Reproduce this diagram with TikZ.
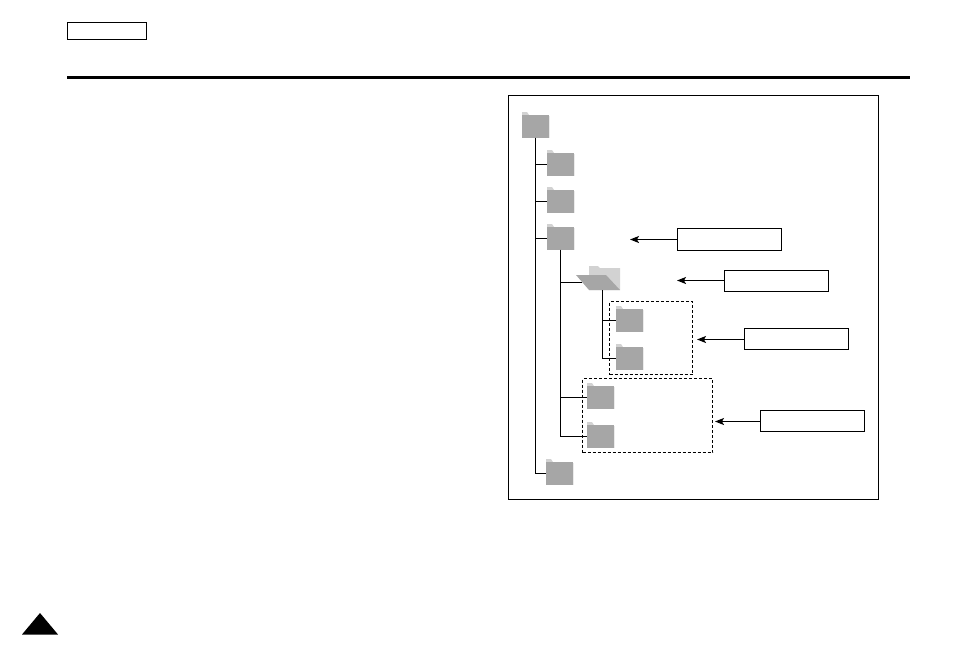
\documentclass[tikz,border=0pt]{standalone}
\usepackage{xcolor}
\usetikzlibrary{arrows.meta}
\definecolor{foldergray}{HTML}{A6A6A6}
\definecolor{tabgray}{HTML}{D2D2D2}
\definecolor{edgegray}{HTML}{EBEBEB}
\tikzstyle{folder}=[anchor=north west,fill=foldergray,minimum width=27pt,minimum height=22.5pt,inner sep=0pt,outer sep=0pt]
\tikzstyle{labelbox}=[anchor=north west,draw=black,line width=1.2pt,minimum width=104pt,minimum height=21pt,inner sep=0pt,outer sep=0pt]
\tikzstyle{dashbox}=[anchor=north west,draw=black,line width=1.2pt,dash pattern=on 3pt off 2pt,inner sep=0pt,outer sep=0pt]
\tikzstyle{link}=[draw=black,line width=1.2pt]
\tikzstyle{pointer}=[link,-{Stealth[length=9pt,width=7pt,inset=2pt]}]
\def\folder#1#2#3{
  \fill[edgegray] (#2+1,#3+1) rectangle +(27,22);
  \fill[tabgray] (#2,#3-3) -- (#2+5,#3-3) -- (#2+7,#3) -- (#2,#3) -- cycle;
  \node[folder] (#1) at (#2,#3+.25) {};
}
\begin{document}
\begin{tikzpicture}[x=1pt,y=-1pt]
    \useasboundingbox (0,0) rectangle (954,657);
    % header
    \node[labelbox,minimum width=79pt,minimum height=17pt] (tag) at (67.5,22.5) {};
    \node[anchor=north west,fill=black,minimum width=843pt,minimum height=3pt,inner sep=0pt] (rule) at (67,75.5) {};
    \node[draw=black,line width=1.2pt,anchor=north west,minimum width=370pt,minimum height=404pt,inner sep=0pt,outer sep=0pt] (frame) at (508.5,95.5) {};
    % folders
    \folder{root}{522}{115}
    \folder{dira}{547}{153}
    \folder{dirb}{547}{190}
    \folder{dirc}{547}{227}
    \folder{subb}{616}{309}
    \folder{subc}{616}{347}
    \folder{subd}{587}{386}
    \folder{sube}{587}{425}
    \folder{dird}{546}{462}
    % open folder
    \fill[tabgray] (589,266) -- (598,266) -- (600,268) -- (620,268) -- (620,290) -- (589,290) -- cycle;
    \fill[foldergray] (576,275) -- (606,275) -- (620,290) -- (589,290) -- cycle;
    \coordinate (opena) at (581.5,282.5);
    \coordinate (openb) at (602.5,290);
    % tree lines
    \draw[link] (root.south) |- (dira.west);
    \draw[link] (root.south) |- (dirb.west);
    \draw[link] (root.south) |- (dirc.west);
    \draw[link] (root.south) |- (dird.west);
    \draw[link] (dirc.south) |- (opena);
    \draw[link] (dirc.south) |- (subd.west);
    \draw[link] (dirc.south) |- (sube.west);
    \draw[link] (openb) |- (subb.west);
    \draw[link] (openb) |- (subc.west);
    % dashed groups
    \node[dashbox,minimum width=83pt,minimum height=73pt] (groupa) at (609.5,301.5) {};
    \node[dashbox,minimum width=130pt,minimum height=74pt] (groupb) at (582.5,378.5) {};
    % notes
    \node[labelbox,minimum height=22pt] (notea) at (677.5,228.5) {};
    \node[labelbox] (noteb) at (724.5,270.5) {};
    \node[labelbox] (notec) at (744.5,328.5) {};
    \node[labelbox] (noted) at (760.5,410.5) {};
    \coordinate (enda) at (630,239.5);
    \coordinate (endb) at (677,280.5);
    \coordinate (endc) at (697,339.5);
    \coordinate (endd) at (715,421.5);
    \draw[pointer] (notea.west |- enda) -- (enda);
    \draw[pointer] (noteb.west |- endb) -- (endb);
    \draw[pointer] (notec.west |- endc) -- (endc);
    \draw[pointer] (noted.west |- endd) -- (endd);
    % page mark
    \fill[black] (22,634.5) -- (40,613) -- (58,634.5) -- cycle;
  \end{tikzpicture}
\end{document}
